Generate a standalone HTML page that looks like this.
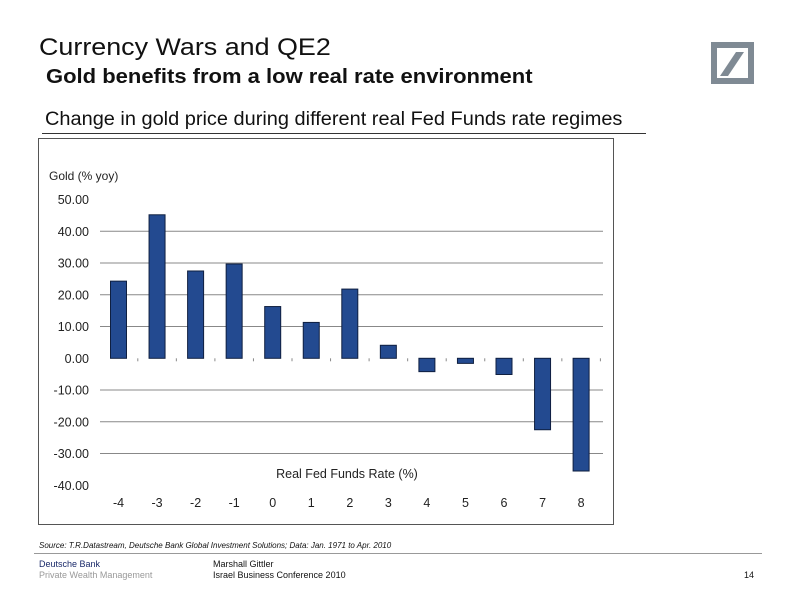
<!DOCTYPE html>
<html><head><meta charset="utf-8"><style>
body{margin:0;width:794px;height:597px;background:#fff;font-family:"Liberation Sans",sans-serif;position:relative;overflow:hidden}
.a{position:absolute;white-space:nowrap}
</style></head><body>
<div class="a" style="left:39px;top:34px;font-size:24px;transform-origin:0 0;transform:scaleX(1.12);color:#111">Currency Wars and QE2</div>
<div class="a" style="left:46px;top:66px;font-size:20px;transform-origin:0 0;transform:scaleX(1.1);font-weight:bold;color:#111">Gold benefits from a low real rate environment</div>
<div class="a" style="left:45px;top:109px;font-size:19px;transform-origin:0 0;transform:scaleX(1.05);color:#111">Change in gold price during different real Fed Funds rate regimes</div>
<div class="a" style="left:42px;top:133px;width:604px;height:1px;background:#333"></div>
<svg class="a" style="left:0;top:0" width="794" height="597">
<rect x="714" y="45" width="37" height="36" fill="none" stroke="#7f8a94" stroke-width="6"/>
<polygon points="720,76 728,76 744,52 736,52" fill="#7f8a94"/>
</svg>
<svg id="chart" class="a" style="left:0;top:0" width="794" height="597"></svg>
<div class="a" style="left:39px;top:541px;font-size:8px;font-style:italic;color:#111">Source: T.R.Datastream, Deutsche Bank Global Investment Solutions; Data: Jan. 1971 to Apr. 2010</div>
<div class="a" style="left:34px;top:553px;width:728px;height:1px;background:#999"></div>
<div class="a" style="left:39px;top:559px;font-size:9px;color:#1a2a6a">Deutsche Bank</div>
<div class="a" style="left:39px;top:570px;font-size:9px;color:#999">Private Wealth Management</div>
<div class="a" style="left:213px;top:559px;font-size:9px;color:#111">Marshall Gittler</div>
<div class="a" style="left:213px;top:570px;font-size:9px;color:#111">Israel Business Conference 2010</div>
<div class="a" style="left:744px;top:570px;font-size:9px;color:#111">14</div>
<script>
const categories=["-4","-3","-2","-1","0","1","2","3","4","5","6","7","8"];
const goldValues=[24.3,45.2,27.5,29.7,16.3,11.3,21.8,4.1,-4.2,-1.6,-5.1,-22.5,-35.5];
const yTicks=[50,40,30,20,10,0,-10,-20,-30,-40];
const yTickLabels=["50.00","40.00","30.00","20.00","10.00","0.00","-10.00","-20.00","-30.00","-40.00"];
const svg=document.getElementById('chart');
const NS='http://www.w3.org/2000/svg';
function y(v){return 358.3-v*3.175;}
function x(i){return 118.5+i*38.55;}
function mk(t,a){const e=document.createElementNS(NS,t);for(const k in a)e.setAttribute(k,a[k]);svg.appendChild(e);return e;}
const frame=mk('rect',{x:38.5,y:138.5,width:575,height:386,fill:'none',stroke:'#555','stroke-width':1});


const yt=mk('text',{x:49,y:180,'font-size':12,fill:'#222'});yt.textContent='Gold (% yoy)';


yTicks.forEach((v,i)=>{
  if(v!==50&&v!==-40&&v!==0){const g=mk('line',{x1:100,x2:603,y1:y(v),y2:y(v),stroke:'#888','stroke-width':1});
  
  }
  const t=mk('text',{x:89,y:y(v)+4.5,'font-size':12.5,fill:'#222','text-anchor':'end'});t.textContent=yTickLabels[i];
  
  
});
goldValues.forEach((v,i)=>{
  const b=mk('rect',{x:x(i)-8,y:Math.min(y(v),y(0)),width:16,height:Math.abs(y(v)-y(0)),fill:'#234a90',stroke:'#0f1f40','stroke-width':1});
  
  
  const t=mk('text',{x:x(i),y:507,'font-size':12.5,fill:'#222','text-anchor':'middle'});t.textContent=categories[i];
  
  
  const tk=mk('line',{x1:x(i)+19.3,x2:x(i)+19.3,y1:y(0),y2:y(0)+3,stroke:'#888'});
  
  
});
const xt=mk('text',{x:347,y:478,'font-size':12.5,fill:'#222','text-anchor':'middle'});xt.textContent='Real Fed Funds Rate (%)';


</script>
</body></html>
